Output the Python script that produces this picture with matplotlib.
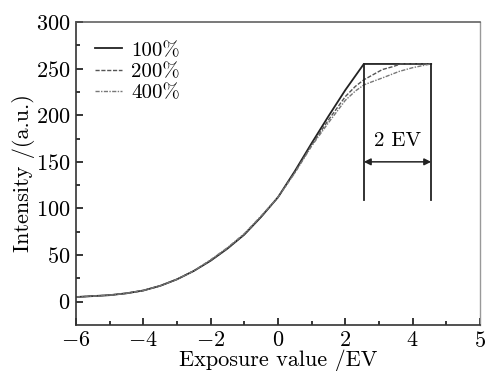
import matplotlib
matplotlib.use("Agg")
import matplotlib.pyplot as plt
import numpy as np

plt.rcParams['font.family'] = ['cmr10', 'DejaVu Serif']
plt.rcParams['mathtext.fontset'] = 'cm'
plt.rcParams['axes.unicode_minus'] = False

# Data
ev_100 = [-6, -5, -4.5, -4, -3.5, -3, -2.5, -2, -1.5, -1, -0.5, 0, 0.5, 1.0, 1.5, 2.0, 2.55, 4.55]
int_100 = [5, 7, 9, 12, 17, 24, 33, 44, 57, 72, 91, 112, 140, 170, 199, 227, 255, 255]

ev_200 = [-6, -5, -4.5, -4, -3.5, -3, -2.5, -2, -1.5, -1, -0.5, 0, 0.5, 1.0, 1.5, 2.0, 2.3, 2.55, 2.8, 3.1, 3.4, 3.65, 4.55]
int_200 = [5, 7, 9, 12, 17, 24, 33, 44, 57, 72, 91, 112, 139, 168, 195, 220, 231, 238, 243, 249, 252, 255, 255]

ev_400 = [-6, -5, -4.5, -4, -3.5, -3, -2.5, -2, -1.5, -1, -0.5, 0, 0.5, 1.0, 1.5, 2.0, 2.3, 2.55, 2.8, 3.1, 3.6, 4.0, 4.4, 4.55]
int_400 = [5, 7, 9, 12, 17, 24, 33, 45, 58, 73, 92, 112, 138, 167, 192, 216, 226, 232.5, 236, 240, 247, 251, 254, 255]

series_labels = ['100%', '200%', '400%']

xtick_pos = [-6, -4, -2, 0, 2, 4, 6]
xtick_labels = [r'$-6$', r'$-4$', r'$-2$', r'$0$', r'$2$', r'$4$', r'$5$']
ytick_pos = [0, 50, 100, 150, 200, 250, 300]

ev_left, ev_right = 2.55, 4.55
bracket_low, bracket_top = 109, 255
arrow_y = 150

fig = plt.figure(figsize=(4.96, 3.71), dpi=100)
ax = fig.add_axes([0.1532, 0.124, 0.8145, 0.8167])

ax.plot(ev_100, int_100, color='#222222', lw=1.3, ls='-', label=series_labels[0])
ax.plot(ev_200, int_200, color='#555555', lw=1.0, ls=(0, (3, 1.2)), label=series_labels[1])
ax.plot(ev_400, int_400, color='#777777', lw=1.0, ls=(0, (3, 1, 1, 1)), label=series_labels[2])

# bracket lines
ax.plot([ev_left, ev_left], [bracket_low, bracket_top], color='#222222', lw=1.3)
ax.plot([ev_right, ev_right], [bracket_low, bracket_top], color='#222222', lw=1.3)
ax.annotate('', xy=(ev_left, arrow_y), xytext=(ev_right, arrow_y),
            arrowprops=dict(arrowstyle='<|-|>', color='#222222', lw=1.1,
                            mutation_scale=10, shrinkA=0, shrinkB=0))
ax.text((ev_left + ev_right) / 2, 172, '2 EV', ha='center', va='center', fontsize=15)

ax.set_xlim(-6, 6)
ax.set_ylim(-25, 300)
ax.set_xticks(xtick_pos)
ax.set_xticklabels(xtick_labels, fontsize=16)
ax.set_xticks(np.arange(-5, 6, 2), minor=True)
ax.set_yticks(ytick_pos)
ax.set_yticklabels([r'$%d$' % v for v in ytick_pos], fontsize=16)
ax.set_yticks(np.arange(25, 300, 50), minor=True)
ax.tick_params(which='major', direction='in', length=5, width=1.1, pad=4)
ax.tick_params(which='minor', direction='in', length=3, width=1.1)
ax.tick_params(top=False, right=False)

ax.set_xlabel('Exposure value /EV', fontsize=16, labelpad=-1)
ax.set_ylabel('Intensity /(a.u.)', fontsize=16, labelpad=1)

for s in ['left', 'bottom']:
    ax.spines[s].set_color('#333333')
    ax.spines[s].set_linewidth(1.2)
ax.spines['top'].set_color('#555555')
ax.spines['top'].set_linewidth(1.1)
ax.spines['right'].set_color('#999999')
ax.spines['right'].set_linewidth(1.0)

leg = ax.legend(loc='upper left', bbox_to_anchor=(0.015, 0.978), frameon=False,
                fontsize=15, handlelength=1.3, handletextpad=0.45,
                labelspacing=0.12, borderaxespad=0.2)

fig.savefig('out.png', dpi=100)
